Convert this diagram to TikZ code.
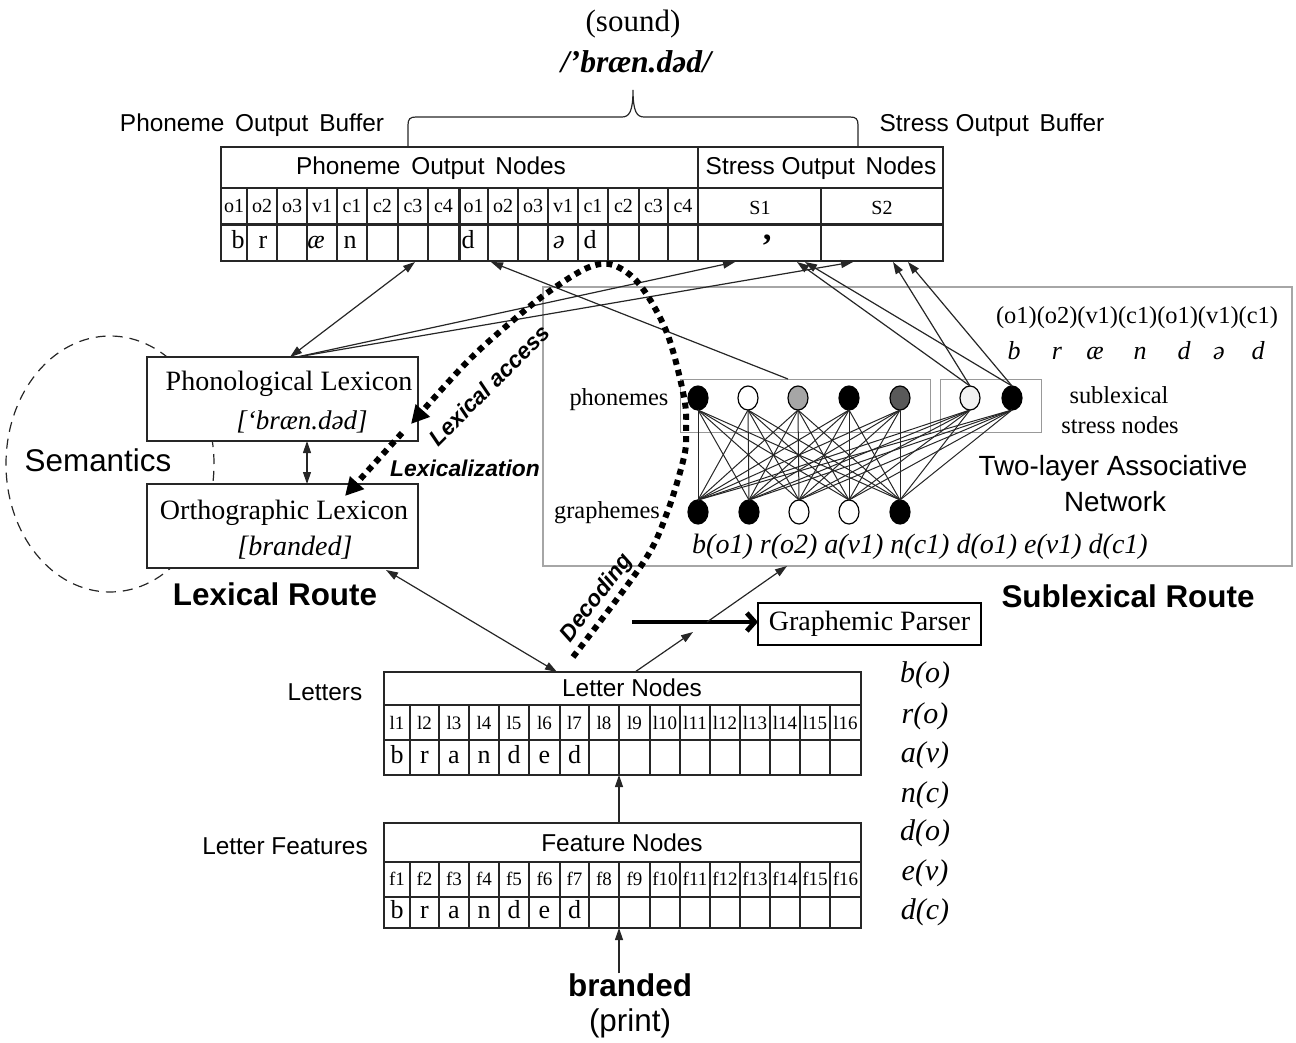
\documentclass[tikz,border=0pt]{standalone}
\usepackage{fontspec}
\setmainfont{Liberation Serif}
\setsansfont{Liberation Sans}
\usetikzlibrary{arrows.meta,shapes.geometric}
\newcommand{\myfs}[1]{\fontsize{#1}{#1}\selectfont}
\begin{document}
\begin{tikzpicture}[x=0.5pt,y=-0.5pt,
  every node/.style={inner sep=0pt,outer sep=0pt},
  tb/.style={text height=0.72em,text depth=0.22em},
  ln/.style={line width=0.6pt,draw=black!85},
  tip/.style={-{Triangle[length=6pt,width=4pt]}},
  dtip/.style={{Triangle[length=6pt,width=4pt]}-{Triangle[length=6pt,width=4pt]}},
  boxnode/.style={draw=black!85,line width=0.6pt,fill=white},
  ttl/.style={font=\sffamily\myfs{12.2}},
  big/.style={font=\sffamily\myfs{15.7}},
  bigb/.style={font=\sffamily\bfseries\myfs{15.7}},
  lab/.style={font=\myfs{10},tb},
  lett/.style={font=\myfs{13},tb},
  ser/.style={font=\myfs{14}},
  sers/.style={font=\myfs{12.2}},
  ita/.style={font=\itshape\myfs{14}},
  itb/.style={font=\itshape\myfs{15}},
  bi/.style={font=\sffamily\bfseries\itshape\myfs{11.4}},
  pnode/.style={ellipse,draw=black,line width=0.6pt,minimum width=10pt,minimum height=12pt},
  dotsty/.style={line width=3pt,dash pattern=on 3pt off 2.6pt},
  bigtip/.style={-{Triangle[length=9pt,width=9pt]}},
]
\useasboundingbox (0,0) rectangle (1296,1043);

% ---------- top title and brace ----------
\node[font=\myfs{15.5}] (sound) at (633,24) {(sound)};
\node[font=\bfseries\itshape\myfs{15.8}] (ipa) at (636,62) {/’bræn.dəd/};
\draw[ln] (408,147) -- (408,125) .. controls (408,119) and (410,117) .. (416,117) -- (622,117)
  .. controls (629,117) and (633,112) .. (633,90)
  .. controls (633,112) and (637,117) .. (644,117) -- (850,117)
  .. controls (856,117) and (858,119) .. (858,125) -- (858,147);
\node[ttl] (pobuf) at (252,125) {Phoneme\, Output\, Buffer};
\node[ttl] (sobuf) at (992,125) {Stress Output\, Buffer};

% ---------- phoneme / stress output table ----------
\node[boxnode,minimum width=361pt,minimum height=57pt] (pob) at (582,204) {};
\draw[ln] (221,188) -- (943,188);
\draw[ln] (698,147) -- (698,261);
\draw[ln] (821,188) -- (821,261);
\foreach \x in {247,277,307,337,367,398,428,488,518,548,578,608,639,668}
  \draw[ln] (\x,188) -- (\x,261);
\draw[line width=1.5pt,black!85] (459,188) -- (459,261);
\draw[line width=1.5pt,black!85] (221,225) -- (943,225);
\node[ttl] (pontitle) at (431,168) {Phoneme\, Output\, Nodes};
\node[ttl] (sontitle) at (821,168) {Stress Output\, Nodes};
\foreach \cx/\l [count=\i] in {234/o1,262/o2,292/o3,322/v1,352/c1,382.5/c2,413/c3,443.5/c4,
  473.5/o1,503/o2,533/o3,563/v1,593/c1,623.5/c2,653.5/c3,683/c4}
  \node[lab] (pcl\i) at (\cx,208) {\l};
\node[lab] (s1lab) at (760,210) {S1};
\node[lab] (s2lab) at (882,210) {S2};
\node[lett] (pb) at (238,244) {b};
\node[lett] (pr) at (263,244) {r};
\node[lett,font=\itshape\myfs{13}] (pae) at (316,244) {æ};
\node[lett] (pn) at (350,244) {n};
\node[lett] (pd1) at (468,244) {d};
\node[lett,font=\itshape\myfs{13}] (pschwa) at (559,244) {ə};
\node[lett] (pd2) at (590,244) {d};
\node[font=\bfseries\myfs{17}] (stressmark) at (767,246) {’};

% ---------- semantics and lexicons ----------
\draw[line width=0.6pt,black!85,dash pattern=on 5pt off 3.5pt] (110,464) ellipse [x radius=52pt,y radius=64pt];
\node[big] (sem) at (98,460) {Semantics};
\node[boxnode,minimum width=135.5pt,minimum height=42pt] (pl) at (282.5,399) {};
\node[boxnode,minimum width=135.5pt,minimum height=42pt] (ol) at (282.5,526) {};
\node[ser] (pltxt) at (289,384) {Phonological Lexicon};
\node[ita,font=\itshape\myfs{13.5}] (plipa) at (302,422) {[‘bræn.dəd]};
\node[ser] (oltxt) at (284,513) {Orthographic Lexicon};
\node[ita] (olipa) at (295,548) {[branded]};
\draw[ln,dtip] (pl.south -| 307,0) -- (ol.north -| 307,0);
\node[bigb] (lexroute) at (275,594) {Lexical Route};

% ---------- network ----------
\node[draw=black!35,line width=0.6pt,minimum width=374.5pt,minimum height=139.5pt] (net) at (917.5,426.5) {};
\node[draw=black!40,line width=0.5pt,minimum width=125pt,minimum height=26.5pt] (phbox) at (805,405.5) {};
\node[draw=black!40,line width=0.5pt,minimum width=50.5pt,minimum height=26.5pt] (stbox) at (990.5,405.5) {};
\node[pnode,fill=black] (p1) at (698,398) {};
\node[pnode,fill=white] (p2) at (748,398) {};
\node[pnode,fill=black!35] (p3) at (798,398) {};
\node[pnode,fill=black] (p4) at (849,398) {};
\node[pnode,fill=black!65] (p5) at (900,398) {};
\node[pnode,fill=black!5] (p6) at (970,398) {};
\node[pnode,fill=black] (p7) at (1012,398) {};
\node[pnode,fill=black] (g1) at (698,512) {};
\node[pnode,fill=black] (g2) at (749,512) {};
\node[pnode,fill=white] (g3) at (799,512) {};
\node[pnode,fill=white] (g4) at (849,512) {};
\node[pnode,fill=black] (g5) at (900,512) {};
\foreach \g in {g1,g2,g3,g4,g5}
  \foreach \p in {p1,p2,p3,p4,p5,p6,p7}
    \draw[line width=0.5pt,black!85] (\g.north) -- (\p.south);
\node[sers] (phlab) at (619,400) {phonemes};
\node[sers] (grlab) at (607,513) {graphemes};
\node[sers] (sub1) at (1119,395) {sublexical};
\node[sers] (sub2) at (1120,425) {stress nodes};
\node[font=\sffamily\myfs{13.9}] (tla1) at (1113,468) {Two-layer Associative};
\node[font=\sffamily\myfs{13.9}] (tla2) at (1115,502) {Network};
\node[sers] (slots) at (1137,318) {(o1)(o2)(v1)(c1)(o1)(v1)(c1)};
\foreach \cx/\l [count=\i] in {1014/b,1057/r,1095/æ,1140/n,1184/d,1219/ə,1258/d}
  \node[font=\itshape\myfs{13},tb] (ph\i) at (\cx,354) {\l};
\node[ita] (grseq) at (920,547) {b(o1) r(o2) a(v1) n(c1) d(o1) e(v1) d(c1)};
\node[bigb] (subroute) at (1128,596) {Sublexical Route};

% ---------- graphemic parser ----------
\node[draw=black,line width=1pt,minimum width=111.5pt,minimum height=21pt,font=\myfs{14}] (gp) at (869.5,624) {Graphemic Parser};
\coordinate (gpstart) at (632,622);
\draw[line width=2.4pt,-{Straight Barb[length=4pt,width=9pt]}] (gpstart) -- (gp.west |- gpstart);

% ---------- letter nodes ----------
\node[boxnode,minimum width=238.5pt,minimum height=51.5pt] (lnt) at (622.5,723.5) {};
\draw[ln] (384,705) -- (861,705);
\draw[ln] (384,740) -- (861,740);
\foreach \x in {410,439,469,499,529,560,589,619,650,680,710,740,770,800,830}
  \draw[ln] (\x,705) -- (\x,775);
\node[ttl] (lntitle) at (632,688) {Letter Nodes};
\foreach \cx [count=\i] in {397,424.5,454,484,514,544.5,574.5,604,634.5,665,695,725,755,785,815,845.5}
  \node[font=\myfs{9.5},tb] (ll\i) at (\cx,724) {l\i};
\foreach \cx/\l [count=\i] in {397/b,424.5/r,454/a,484/n,514/d,544.5/e,574.5/d}
  \node[lett] (lc\i) at (\cx,758) {\l};
\node[ttl] (letters) at (325,692) {Letters};

% ---------- feature nodes ----------
\node[boxnode,minimum width=238.5pt,minimum height=52.5pt] (fnt) at (622.5,875.5) {};
\draw[ln] (384,862) -- (861,862);
\draw[ln] (384,897) -- (861,897);
\foreach \x in {410,439,469,499,529,560,589,619,650,680,710,740,770,800,830}
  \draw[ln] (\x,862) -- (\x,928);
\node[ttl] (fntitle) at (622,843) {Feature Nodes};
\foreach \cx [count=\i] in {397,424.5,454,484,514,544.5,574.5,604,634.5,665,695,725,755,785,815,845.5}
  \node[font=\myfs{9.5},tb] (fl\i) at (\cx,880) {f\i};
\foreach \cx/\l [count=\i] in {397/b,424.5/r,454/a,484/n,514/d,544.5/e,574.5/d}
  \node[lett] (fc\i) at (\cx,913) {\l};
\node[ttl] (lfeat) at (285,846) {Letter Features};

\node[bigb] (branded) at (630,985) {branded};
\node[big] (print) at (630,1023) {(print)};

\foreach \l/\y [count=\i] in {b(o)/675,r(o)/716,a(v)/755,n(c)/795,d(o)/833,e(v)/873,d(c)/912}
  \node[itb] (rc\i) at (925,\y) {\l};

% ---------- connectors ----------
\coordinate (plA) at (290,357);
\coordinate (plB) at (297,357);
\draw[ln,dtip] (plA) -- (415,262);
\draw[ln,tip] (plB) -- (735,262);
\draw[ln,tip] (plB) -- (853,262);
\draw[ln,tip] (phbox.north -| 788,0) -- (491,262);
\draw[ln,tip] (p6.north) -- (797,262);
\draw[ln,tip] (p6.north) -- (893,262);
\draw[ln,tip] (p7.north) -- (805,262);
\draw[ln,tip] (p7.north) -- (908,262);
\draw[ln,dtip] (lnt.north -| 557,0) -- (386,570);
\draw[ln,tip] (lnt.north -| 635,0) -- (693,632);
\draw[ln,tip] (707,622) -- (net.south -| 787,0);
\draw[ln,tip] (fnt.north -| 619,0) -- (lnt.south -| 619,0);
\draw[ln,tip] (branded.north -| 619,0) -- (fnt.south -| 619,0);

% ---------- dotted routes ----------
\draw[dotsty,bigtip] plot[smooth,tension=0.55] coordinates {(573,657) (643,563) (667,513) (684,457) (686,430) (684,397) (667,333) (640,285) (613,265) (587,268) (547,293) (510,323) (467,362) (411,424)};
\draw[dotsty,bigtip] (402,433) -- (345,496);
\node[bi,rotate=45] (lexacc) at (489,385) {Lexical access};
\node[bi] (lexz) at (465,468) {Lexicalization};
\node[bi,rotate=53] (decod) at (597,598) {Decoding};
\end{tikzpicture}
\end{document}
